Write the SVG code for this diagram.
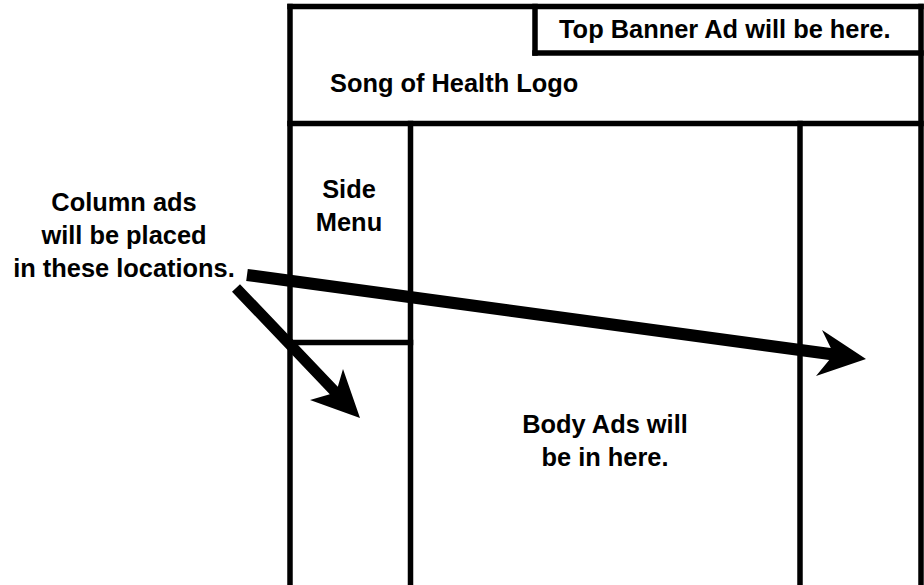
<svg xmlns="http://www.w3.org/2000/svg" width="924" height="585" viewBox="0 0 924 585">
  <style>
    .ln { stroke: #000; stroke-width: 5.5; fill: none; stroke-linecap: square; }
    .t { font-family: "Liberation Sans", Arial, sans-serif; font-weight: bold; font-size: 25.4px; fill: #000; }
    .arrow { fill: #000; stroke: none; }
  </style>
  <rect width="924" height="585" fill="#fff"/>
  <g id="frame">
    <line class="ln" x1="290" y1="6.5" x2="290" y2="590"/>
    <line class="ln" x1="290" y1="6.5" x2="921" y2="6.5"/>
    <line class="ln" x1="921" y1="6.5" x2="921" y2="590"/>
  </g>
  <g id="header">
    <line class="ln" x1="290" y1="123.5" x2="921" y2="123.5"/>
    <text class="t" x="330" y="92">Song of Health Logo</text>
  </g>
  <g id="top-banner">
    <line class="ln" x1="535" y1="6.5" x2="535" y2="53"/>
    <line class="ln" x1="535" y1="53" x2="921" y2="53"/>
    <text class="t" x="559" y="38">Top Banner Ad will be here.</text>
  </g>
  <g id="side-menu">
    <line class="ln" x1="410.5" y1="123.5" x2="410.5" y2="590"/>
    <line class="ln" x1="290" y1="342.5" x2="410.5" y2="342.5"/>
    <text class="t" text-anchor="middle" x="349" y="198">Side</text>
    <text class="t" text-anchor="middle" x="349" y="231">Menu</text>
  </g>
  <g id="body">
    <text class="t" text-anchor="middle" x="605" y="433">Body Ads will</text>
    <text class="t" text-anchor="middle" x="605" y="466">be in here.</text>
  </g>
  <g id="right-column">
    <line class="ln" x1="800" y1="123.5" x2="800" y2="590"/>
  </g>
  <g id="column-ads-note">
    <text class="t" text-anchor="middle" x="124" y="211">Column ads</text>
    <text class="t" text-anchor="middle" x="124" y="244">will be placed</text>
    <text class="t" text-anchor="middle" x="124" y="277">in these locations.</text>
  </g>
  <g id="connectors">
    <polygon class="arrow" points="247.8,269 830.8,348 822,330 866,359 816,376 829.2,360 246.2,281"/>
    <polygon class="arrow" points="240,284.2 337.8,386.7 343,369 360,418 310,400 329.8,394.3 232,291.8"/>
  </g>
</svg>
